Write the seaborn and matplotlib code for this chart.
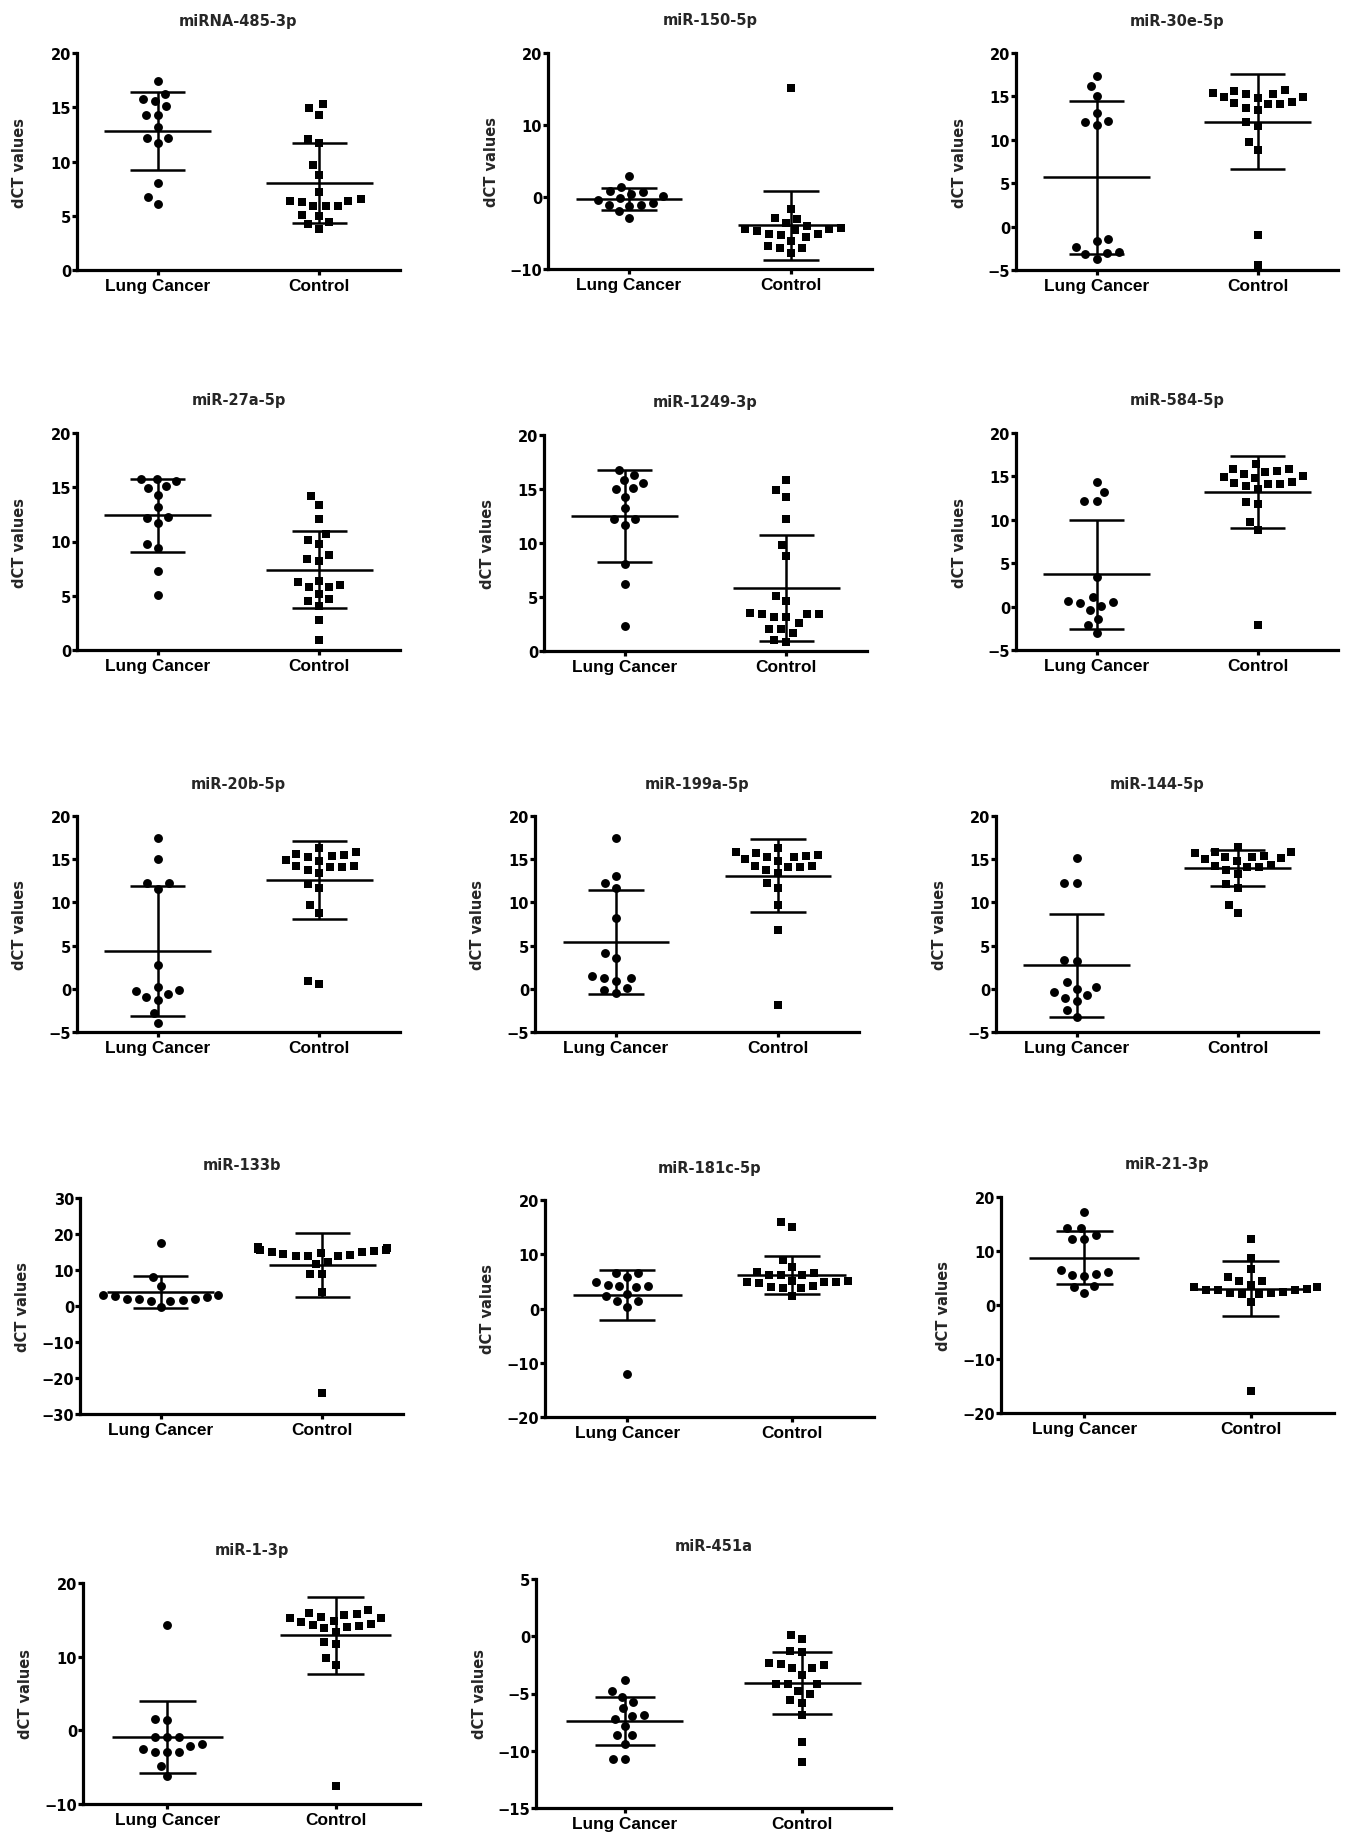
import warnings
warnings.filterwarnings("ignore")
import matplotlib
matplotlib.use("Agg")
import matplotlib.pyplot as plt
import seaborn as sns
import numpy as np

# ---------------- data ----------------
groups = ["Lung Cancer", "Control"]
titles = ["miRNA-485-3p", "miR-150-5p", "miR-30e-5p",
          "miR-27a-5p", "miR-1249-3p", "miR-584-5p",
          "miR-20b-5p", "miR-199a-5p", "miR-144-5p",
          "miR-133b", "miR-181c-5p", "miR-21-3p",
          "miR-1-3p", "miR-451a"]

lc_485 = [17.4, 16.2, 15.8, 15.6, 15.1, 14.3, 14.3, 13.2, 12.2, 12.2, 11.7, 8.0, 6.7, 6.1]
ct_485 = [15.3, 14.9, 14.3, 12.1, 11.7, 9.7, 8.8, 7.2, 6.5, 6.4, 6.3, 6.4, 5.9, 5.9, 5.9, 5.1, 5.0, 4.4, 4.2, 3.8]

lc_150 = [2.9, 1.4, 0.65, 0.8, 0.45, 0.1, -0.2, -0.4, -1.1, -1.2, -0.8, -1.1, -2.0, -2.9]
ct_150 = [15.2, -1.6, -2.9, -3.0, -3.6, -4.0, -4.3, -4.5, -4.6, -4.5, -4.7, -5.1, -5.3, -5.1, -5.6, -6.1, -7.1, -7.1, -6.8, -7.8]

lc_30e = [17.4, 16.2, 15.0, 13.1, 12.2, 11.7, 12.1, -1.4, -1.7, -2.4, -3.0, -3.2, -2.9, -3.7]
ct_30e = [15.7, 15.4, 15.3, 15.6, 15.3, 14.9, 14.8, 14.9, 14.2, 14.1, 14.1, 14.4, 13.7, 13.4, 12.1, 11.6, 9.7, 8.8, -1.0, -4.4]

lc_27a = [15.8, 15.8, 15.6, 15.1, 14.9, 14.3, 13.2, 12.2, 12.3, 11.7, 9.8, 9.4, 7.3, 5.1]
ct_27a = [14.2, 13.4, 12.1, 10.7, 10.1, 9.8, 8.8, 8.4, 8.2, 6.3, 6.4, 5.8, 5.8, 6.0, 5.2, 4.7, 4.5, 4.1, 2.8, 0.9]

lc_1249 = [16.8, 16.3, 15.8, 15.6, 15.1, 15.0, 14.3, 13.2, 12.2, 12.2, 11.7, 8.1, 6.2, 2.3]
ct_1249 = [15.8, 14.9, 14.3, 12.2, 9.8, 8.8, 5.1, 4.6, 3.4, 3.4, 3.4, 3.5, 3.15, 3.15, 2.6, 2.0, 2.0, 1.7, 0.8, 1.0]

lc_584 = [14.4, 13.2, 12.2, 12.2, 3.4, 1.1, 0.55, 0.7, 0.1, 0.4, -0.4, -1.4, -2.1, -3.0]
ct_584 = [16.4, 15.8, 15.5, 15.8, 15.6, 15.3, 14.9, 15.0, 14.8, 14.3, 14.1, 14.1, 14.2, 13.9, 13.5, 12.1, 11.8, 9.8, 8.8, -2.1]

lc_20b = [17.4, 15.0, 12.2, 12.2, 11.6, 2.8, 0.25, -0.25, -0.1, -0.95, -0.65, -1.3, -2.75, -4.0]
ct_20b = [16.3, 15.8, 15.5, 15.6, 15.3, 15.4, 14.9, 14.8, 14.2, 14.1, 14.1, 14.2, 13.8, 13.4, 12.1, 11.7, 9.7, 8.8, 0.95, 0.6]

lc_199a = [17.4, 13.1, 12.2, 11.7, 8.2, 4.2, 3.6, 1.3, 1.3, 1.5, 0.9, 0.05, -0.1, -0.5]
ct_199a = [16.3, 15.8, 15.7, 15.5, 15.4, 15.3, 15.3, 14.8, 15.0, 14.2, 14.1, 14.1, 14.2, 13.8, 13.4, 12.2, 11.7, 9.7, 6.8, -1.9]

lc_144 = [15.1, 12.2, 12.2, 3.3, 3.2, 0.75, 0.2, -0.4, -0.05, -1.1, -0.7, -1.4, -2.45, -3.3]
ct_144 = [16.4, 15.8, 15.8, 15.7, 15.4, 15.3, 15.25, 15.1, 15.0, 14.8, 14.25, 14.1, 14.1, 14.3, 13.8, 13.3, 12.1, 11.7, 9.7, 8.8]

lc_133b = [17.4, 8.0, 5.5, 3.1, 2.8, 2.0, 1.85, 1.5, 1.4, 1.6, 2.0, 2.5, 3.1, -0.4]
ct_133b = [16.3, 16.0, 15.6, 15.1, 14.7, 14.3, 14.0, 13.8, 14.0, 14.4, 14.9, 15.3, 15.6, 15.7, 11.6, 12.1, 8.8, 8.8, 3.8, -24.3]

lc_181c = [6.6, 6.6, 5.8, 4.8, 4.4, 4.2, 4.2, 4.0, 2.6, 2.3, 1.4, 1.4, 0.3, -12.0]
ct_181c = [16.0, 15.0, 9.0, 7.6, 6.5, 6.2, 6.2, 6.8, 6.2, 5.1, 4.8, 4.8, 5.1, 4.8, 4.7, 4.0, 3.7, 3.7, 2.3, 4.2]

lc_21 = [17.3, 14.25, 14.25, 12.9, 12.3, 12.2, 6.4, 6.1, 5.8, 5.5, 5.35, 3.6, 3.4, 2.3]
ct_21 = [12.15, 8.75, 6.6, 5.2, 4.4, 4.4, 3.75, 3.3, 3.3, 3.0, 2.7, 2.7, 2.5, 2.25, 2.7, 1.95, 2.1, 2.25, 0.5, -15.85]

lc_1 = [14.35, 1.5, 1.4, -0.9, -0.9, -0.9, -1.9, -2.1, -2.6, -3.0, -3.0, -2.9, -4.9, -6.2]
ct_1 = [16.3, 15.85, 15.7, 15.9, 15.3, 15.3, 14.9, 14.7, 14.4, 14.25, 14.2, 14.0, 13.9, 13.35, 12.0, 11.7, 9.8, 8.85, -7.55, 15.4]

lc_451a = [-3.8, -4.8, -5.3, -5.7, -6.3, -7.0, -6.85, -7.2, -7.8, -8.6, -8.6, -9.4, -10.7, -10.7]
ct_451a = [0.1, -0.2, -1.25, -1.4, -2.4, -2.35, -2.8, -2.55, -2.75, -3.35, -4.2, -4.2, -4.2, -4.75, -5.0, -5.6, -5.8, -6.9, -9.2, -10.95]

lc_mean = [12.8, -0.3, 5.7, 12.4, 12.5, 3.7, 4.4, 5.4, 2.7, 3.8, 2.5, 8.75, -0.9, -7.4]
lc_sd = [3.6, 1.55, 8.8, 3.35, 4.3, 6.3, 7.5, 6.0, 5.95, 4.4, 4.65, 4.9, 4.9, 2.1]
ct_mean = [8.0, -3.9, 12.1, 7.4, 5.8, 13.2, 12.6, 13.1, 14.0, 11.5, 6.2, 3.0, 12.9, -4.1]
ct_sd = [3.7, 4.8, 5.45, 3.55, 4.9, 4.1, 4.5, 4.2, 2.05, 8.9, 3.45, 5.1, 5.2, 2.7]

y_min = [0, -10, -5, 0, 0, -5, -5, -5, -5, -30, -20, -20, -10, -15]
y_max = [20, 20, 20, 20, 20, 20, 20, 20, 20, 30, 20, 20, 20, 5]
y_step = [5, 10, 5, 5, 5, 5, 5, 5, 5, 10, 10, 10, 10, 5]

lung_sets = [lc_485, lc_150, lc_30e, lc_27a, lc_1249, lc_584, lc_20b,
             lc_199a, lc_144, lc_133b, lc_181c, lc_21, lc_1, lc_451a]
ctrl_sets = [ct_485, ct_150, ct_30e, ct_27a, ct_1249, ct_584, ct_20b,
             ct_199a, ct_144, ct_133b, ct_181c, ct_21, ct_1, ct_451a]

# ---------------- layout (pixel boxes: left, top, right, bottom) ----------------
boxes = [(77, 54, 400, 271), (548, 54, 872, 270), (1016, 54, 1338, 271),
         (77, 434, 400, 651), (544, 436, 867, 652), (1016, 434, 1338, 651),
         (77, 817, 400, 1033), (535, 817, 859, 1033), (996, 817, 1318, 1033),
         (80, 1199, 403, 1415), (545, 1201, 874, 1418), (1001, 1198, 1334, 1414),
         (83, 1584, 420, 1805), (536, 1580, 891, 1809)]

sns.set_style("ticks")
plt.rcParams["font.family"] = ["DejaVu Sans"]
plt.rcParams["font.weight"] = "bold"

W, H = 1351, 1840
fig = plt.figure(figsize=(W / 100, H / 100), dpi=100)
fig.patch.set_facecolor("white")

LW = 2.3
SPREAD = 8.3   # marker diameter (pt) used by the swarm layout
DOT = 6.4      # drawn marker diameter (pt)
swarm_colls = []
for i in range(len(titles)):
    l, t, r, b = boxes[i]
    wpx, hpx = r - l, b - t
    ax = fig.add_axes([l / W, 1 - b / H, wpx / W, hpx / H])
    lc = lung_sets[i]
    ct = ctrl_sets[i]
    n0 = len(ax.collections)
    sns.swarmplot(x=["Lung Cancer"] * len(lc), y=lc, order=groups, marker="o",
                  color="black", size=SPREAD, linewidth=0, ax=ax, clip_on=False)
    sns.swarmplot(x=["Control"] * len(ct), y=ct, order=groups, marker="s",
                  color="black", size=SPREAD, linewidth=0, ax=ax, clip_on=False)
    swarm_colls.extend(ax.collections[n0:])
    for j, (m, s) in enumerate([(lc_mean[i], lc_sd[i]), (ct_mean[i], ct_sd[i])]):
        ax.hlines(m, j - 0.33, j + 0.33, color="black", lw=1.8, zorder=5)
        ax.hlines([m - s, m + s], j - 0.17, j + 0.17, color="black", lw=1.8, zorder=5)
        ax.vlines(j, m - s, m + s, color="black", lw=1.8, zorder=5)
    ax.set_xlim(-0.5, 1.5)
    ax.set_ylim(y_min[i], y_max[i])
    ax.set_yticks(np.arange(y_min[i], y_max[i] + 0.1, y_step[i]))
    ax.set_xticks([0, 1])
    ax.set_xticklabels(groups, fontfamily="Liberation Sans", fontweight="bold", fontsize=12.4)
    for sp in ["top", "right"]:
        ax.spines[sp].set_visible(False)
    for sp in ["left", "bottom"]:
        ax.spines[sp].set_linewidth(LW)
        ax.spines[sp].set_color("black")
    ax.tick_params(axis="y", length=3.4, width=LW, pad=0.8, labelsize=10.5, colors="black")
    ax.tick_params(axis="x", length=3.6, width=LW, pad=2.5, colors="black")
    ax.set_xlabel("")
    ax.set_ylabel("")
    ax.text(-57 / wpx, 0.5, "dCT values", transform=ax.transAxes, rotation=90,
            ha="center", va="center", fontsize=10.5, fontweight="bold")
    ax.text(0.5, 1 + 33 / hpx, titles[i], transform=ax.transAxes,
            ha="center", va="center", fontsize=10.5, fontweight="bold")
    ax.set_facecolor("white")

# let seaborn lay out the swarms, then freeze them and shrink the drawn markers
fig.canvas.draw()
for coll in swarm_colls:
    if "draw" in coll.__dict__:
        del coll.draw
    coll.set_sizes([DOT ** 2])

fig.savefig("out.png", dpi=100, facecolor="white")
